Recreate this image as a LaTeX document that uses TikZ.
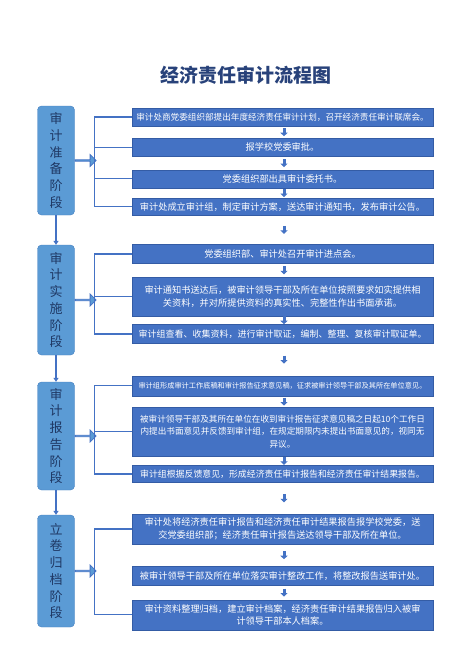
\documentclass[tikz,border=0pt]{standalone}
\usepackage{fontspec}
\setmainfont{Noto Sans CJK SC}
\usepackage{xcolor}
\definecolor{stepblue}{RGB}{68,114,196}
\definecolor{stepline}{RGB}{52,92,165}
\definecolor{stageblue}{RGB}{91,155,213}
\definecolor{stageline}{RGB}{70,128,192}
\definecolor{stagetext}{RGB}{31,56,100}
\definecolor{titleblue}{RGB}{40,66,122}
\usepackage{tikz}
\usetikzlibrary{arrows.meta,positioning,calc,shapes.arrows}
\tikzset{
	stage/.style   = {rectangle,rounded corners=4pt,draw=stageline,
		fill=stageblue,minimum width=37pt,align=center,
		text=stagetext,inner sep=2pt,
		font=\fontsize{13}{16.7}\selectfont},
	stepbox/.style = {rectangle,draw=stepline,fill=stepblue,
		minimum width=301pt,align=center,text=white,
		inner xsep=3pt,inner ysep=2pt,
		font=\fontsize{9.2}{12.5}\selectfont},
	blk/.style     = {single arrow,draw=stepblue,fill=stageblue,
		line width=0.8pt,minimum height=21pt,minimum width=12pt,
		single arrow head extend=3pt,inner sep=0pt},
	brk/.style     = {stepblue,line width=1.3pt},
	conn/.style    = {-{Triangle[width=5pt,length=4pt]},stepblue,line width=1.2pt},
	sarr/.style    = {-{Triangle[width=7pt,length=3.5pt]},stepblue,line width=3pt},
}

\begin{document}
\begin{tikzpicture}[x=1pt,y=-1pt]
	\useasboundingbox (0,0) rectangle (474,670);
	
	%% Titre
	\node (title) at (246,75) [font=\bfseries\fontsize{19}{19}\selectfont,text=titleblue]
	{经济责任审计流程图};
	
	%% Phases
	\node (st1) [stage,minimum height=109pt] at (56,160.5) {审\\计\\准\\备\\阶\\段};
	\node (st2) [stage,minimum height=110pt] at (56,300)   {审\\计\\实\\施\\阶\\段};
	\node (st3) [stage,minimum height=108pt] at (56,436)   {审\\计\\报\\告\\阶\\段};
	\node (st4) [stage,minimum height=112pt] at (56,571)   {立\\卷\\归\\档\\阶\\段};
	
	%% Etapes -- preparation
	\node (s11) [stepbox,minimum height=18pt,font=\fontsize{8.6}{12.5}\selectfont] at (282.5,117)
	{审计处商党委组织部提出年度经济责任审计计划，召开经济责任审计联席会。};
	\node (s12) [stepbox,minimum height=18pt,below=12pt of s11]
	{报学校党委审批。};
	\node (s13) [stepbox,minimum height=18pt,below=13pt of s12]
	{党委组织部出具审计委托书。};
	\node (s14) [stepbox,minimum height=17pt,below=10pt of s13]
	{审计处成立审计组，制定审计方案，送达审计通知书，发布审计公告。};
	
	%% Etapes -- mise en oeuvre
	\node (s21) [stepbox,minimum height=19pt,below=29pt of s14]
	{党委组织部、审计处召开审计进点会。};
	\node (s22) [stepbox,minimum height=39pt,below=13pt of s21]
	{审计通知书送达后，被审计领导干部及所在单位按照要求如实提供相\\
		关资料，并对所提供资料的真实性、完整性作出书面承诺。};
	\node (s23) [stepbox,minimum height=19pt,below=8pt of s22,font=\fontsize{9}{12.5}\selectfont]
	{审计组查看、收集资料，进行审计取证，编制、整理、复核审计取证单。};
	
	%% Etapes -- rapport
	\node (s31) [stepbox,minimum height=20pt,below=32pt of s23,font=\fontsize{7.2}{12.5}\selectfont]
	{审计组形成审计工作底稿和审计报告征求意见稿，征求被审计领导干部及其所在单位意见。};
	\node (s32) [stepbox,minimum height=49pt,below=11pt of s31,font=\fontsize{8.6}{12.3}\selectfont]
	{被审计领导干部及其所在单位在收到审计报告征求意见稿之日起10个工作日\\
		内提出书面意见并反馈到审计组，在规定期限内未提出书面意见的，视同无\\
		异议。};
	\node (s33) [stepbox,minimum height=17pt,below=9pt of s32,font=\fontsize{8.9}{12.5}\selectfont]
	{审计组根据反馈意见，形成经济责任审计报告和经济责任审计结果报告。};
	
	%% Etapes -- archivage
	\node (s41) [stepbox,minimum height=30pt,below=31pt of s33]
	{审计处将经济责任审计报告和经济责任审计结果报告报学校党委，送\\
		交党委组织部；经济责任审计报告送达领导干部及所在单位。};
	\node (s42) [stepbox,minimum height=19pt,below=22pt of s41]
	{被审计领导干部及所在单位落实审计整改工作，将整改报告送审计处。};
	\node (s43) [stepbox,minimum height=30pt,below=14pt of s42]
	{审计资料整理归档，建立审计档案，经济责任审计结果报告归入被审\\
		计领导干部本人档案。};
	
	%% Fleches larges
	\node (ar1) [blk,right=0pt of st1] {};
	\node (ar2) [blk,right=0pt of st2] {};
	\node (ar3) [blk,right=0pt of st3] {};
	\node (ar4) [blk,right=0pt of st4] {};
	
	%% Accolades
	\draw[brk](s11.west)--++(-37,0)|-(s14.west);
	\draw[brk](s12.west)--++(-37,0);
	\draw[brk](s13.west)--++(-37,0);
	\draw[brk](s21.west)--++(-37,0)|-(s23.west);
	\draw[brk](s22.west)--++(-37,0);
	\draw[brk](s31.west)--++(-37,0)|-(s33.west);
	\draw[brk](s32.west)--++(-37,0);
	\draw[brk](s41.west)--++(-37,0)|-(s43.west);
	
	%% Fleches
	\draw[conn](st1)--(st2);
	\draw[conn](st2)--(st3);
	\draw[conn](st3)--(st4);
	\foreach \a/\b in {s11/s12,s12/s13,s13/s14,s14/s21,s21/s22,s22/s23,
		s23/s31,s31/s32,s32/s33,s33/s41,s41/s42,s42/s43}
	\draw[sarr]($(\a.south)!.5!(\b.north)+(1.5,-4)$)--($(\a.south)!.5!(\b.north)+(1.5,4)$);
\end{tikzpicture}
\end{document}
